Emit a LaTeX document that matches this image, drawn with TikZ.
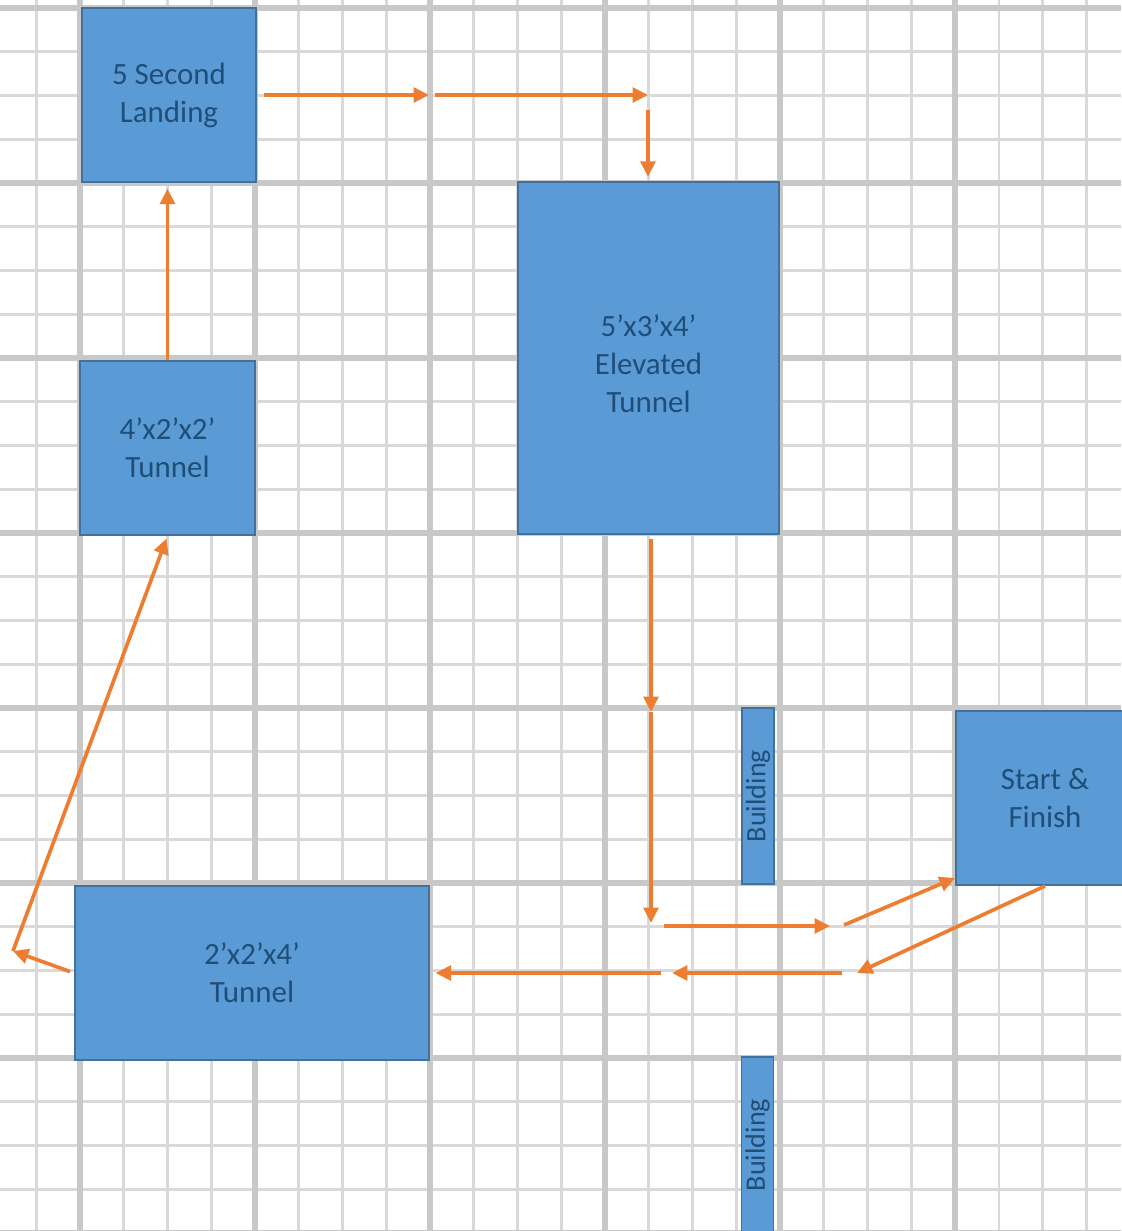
\documentclass[tikz,border=0pt]{standalone}
\usepackage{fontspec}
\setmainfont{Carlito}
\usetikzlibrary{arrows.meta}
\definecolor{areablue}{HTML}{5B9BD5}
\definecolor{arealine}{HTML}{41719C}
\definecolor{areatext}{HTML}{1F4E79}
\definecolor{routeorange}{HTML}{ED7D31}
\definecolor{gridmajor}{HTML}{C8C8C8}
\definecolor{gridminor}{HTML}{D9D9D9}
\tikzset{
  areabox/.style={
    draw=arealine,
    line width=1.4pt,
    fill=areablue,
    text=areatext,
    align=center,
    inner sep=0pt,
    font=\fontsize{22}{27}\selectfont
  },
  buildingbox/.style={
    areabox,
    rotate=90,
    minimum width=44mm,
    minimum height=8mm,
    font=\fontsize{20}{24}\selectfont
  },
  route/.style={-{Triangle[length=11pt,width=10.5pt]},line width=2.6pt,draw=routeorange},
  minorline/.style={draw=gridminor,line width=1.8pt},
  majorline/.style={draw=gridmajor,line width=3.9pt}
}

\begin{document}
\begin{tikzpicture}[x=0.25mm,y=-0.25mm]
  \useasboundingbox (0,0) rectangle (1121,1231);
  \fill[white] (0,0) rectangle (1121,1231);

  % floor grid
  \begin{scope}
    \clip (0,0) rectangle (1121,1231);
    \foreach \i in {-2,...,24} \draw[minorline] ({80+43.75*\i},0) -- ++(0,1231);
    \foreach \j in {-1,...,28} \draw[minorline] (0,{8+43.75*\j}) -- ++(1121,0);
    \foreach \i in {-1,...,6} \draw[majorline] ({80+175*\i},0) -- ++(0,1231);
    \foreach \j in {0,...,7} \draw[majorline] (0,{8+175*\j}) -- ++(1121,0);
  \end{scope}

  % obstacles
  \node[areabox, minimum width=43.5mm, minimum height=43.5mm] (landing) at (169,95) {5 Second\\Landing};
  \node[areabox, minimum width=43.75mm, minimum height=43.5mm] (smalltunnel) at (167.5,448) {4’x2’x2’\\Tunnel};
  \node[areabox, minimum width=65.25mm, minimum height=88mm] (elevated) at (648.5,358) {\rule{0pt}{23pt}5’x3’x4’\\Elevated\\Tunnel};
  \node[areabox, minimum width=44.5mm, minimum height=43.5mm] (start) at (1045,798) {Start \&\\Finish};
  \node[areabox, minimum width=88.5mm, minimum height=43.5mm] (longtunnel) at (252,973) {2’x2’x4’\\Tunnel};
  \node[buildingbox] (buildingnorth) at (758,796) {Building};
  \node[buildingbox] (buildingsouth) at (757.5,1145) {Building};

  % turning points of the course
  \coordinate (turn1) at (429,95);
  \coordinate (turn2) at (648,95);
  \coordinate (bend) at (13,951);
  \coordinate (mid1) at (651,712);
  \coordinate (mid2) at (651,923);
  \coordinate (gate1) at (830,926);
  \coordinate (gate2) at (844,925);
  \coordinate (back1) at (857,973);
  \coordinate (back2) at (672,973);

  \draw[route, shorten <=5pt] (landing) -- (turn1);
  \draw[route, shorten <=4pt] (turn1) -- (turn2);
  \draw[route, shorten <=11pt, shorten >=3pt] (turn2) -- (turn2 |- elevated.north);
  \draw[route, shorten <=3pt] (mid1 |- elevated.south) -- (mid1);
  \draw[route] (mid1) -- (mid2);
  \draw[route, shorten <=9pt] (mid2 |- gate1) -- (gate1);
  \draw[route] (gate2) -- ([yshift=5.7pt]start.south west);
  \draw[route] (start.south) -- (back1);
  \draw[route, shorten <=11pt] (back1) -- (back2);
  \draw[route, shorten <=8pt, shorten >=4pt] (back2) -- (longtunnel.east);
  \draw[route, shorten <=3pt] (longtunnel.west) -- (bend);
  \draw[route, shorten >=2pt] (bend) -- (smalltunnel.south);
  \draw[route, shorten >=4pt] (smalltunnel.north) -- (smalltunnel.north |- landing.south);
\end{tikzpicture}
\end{document}
